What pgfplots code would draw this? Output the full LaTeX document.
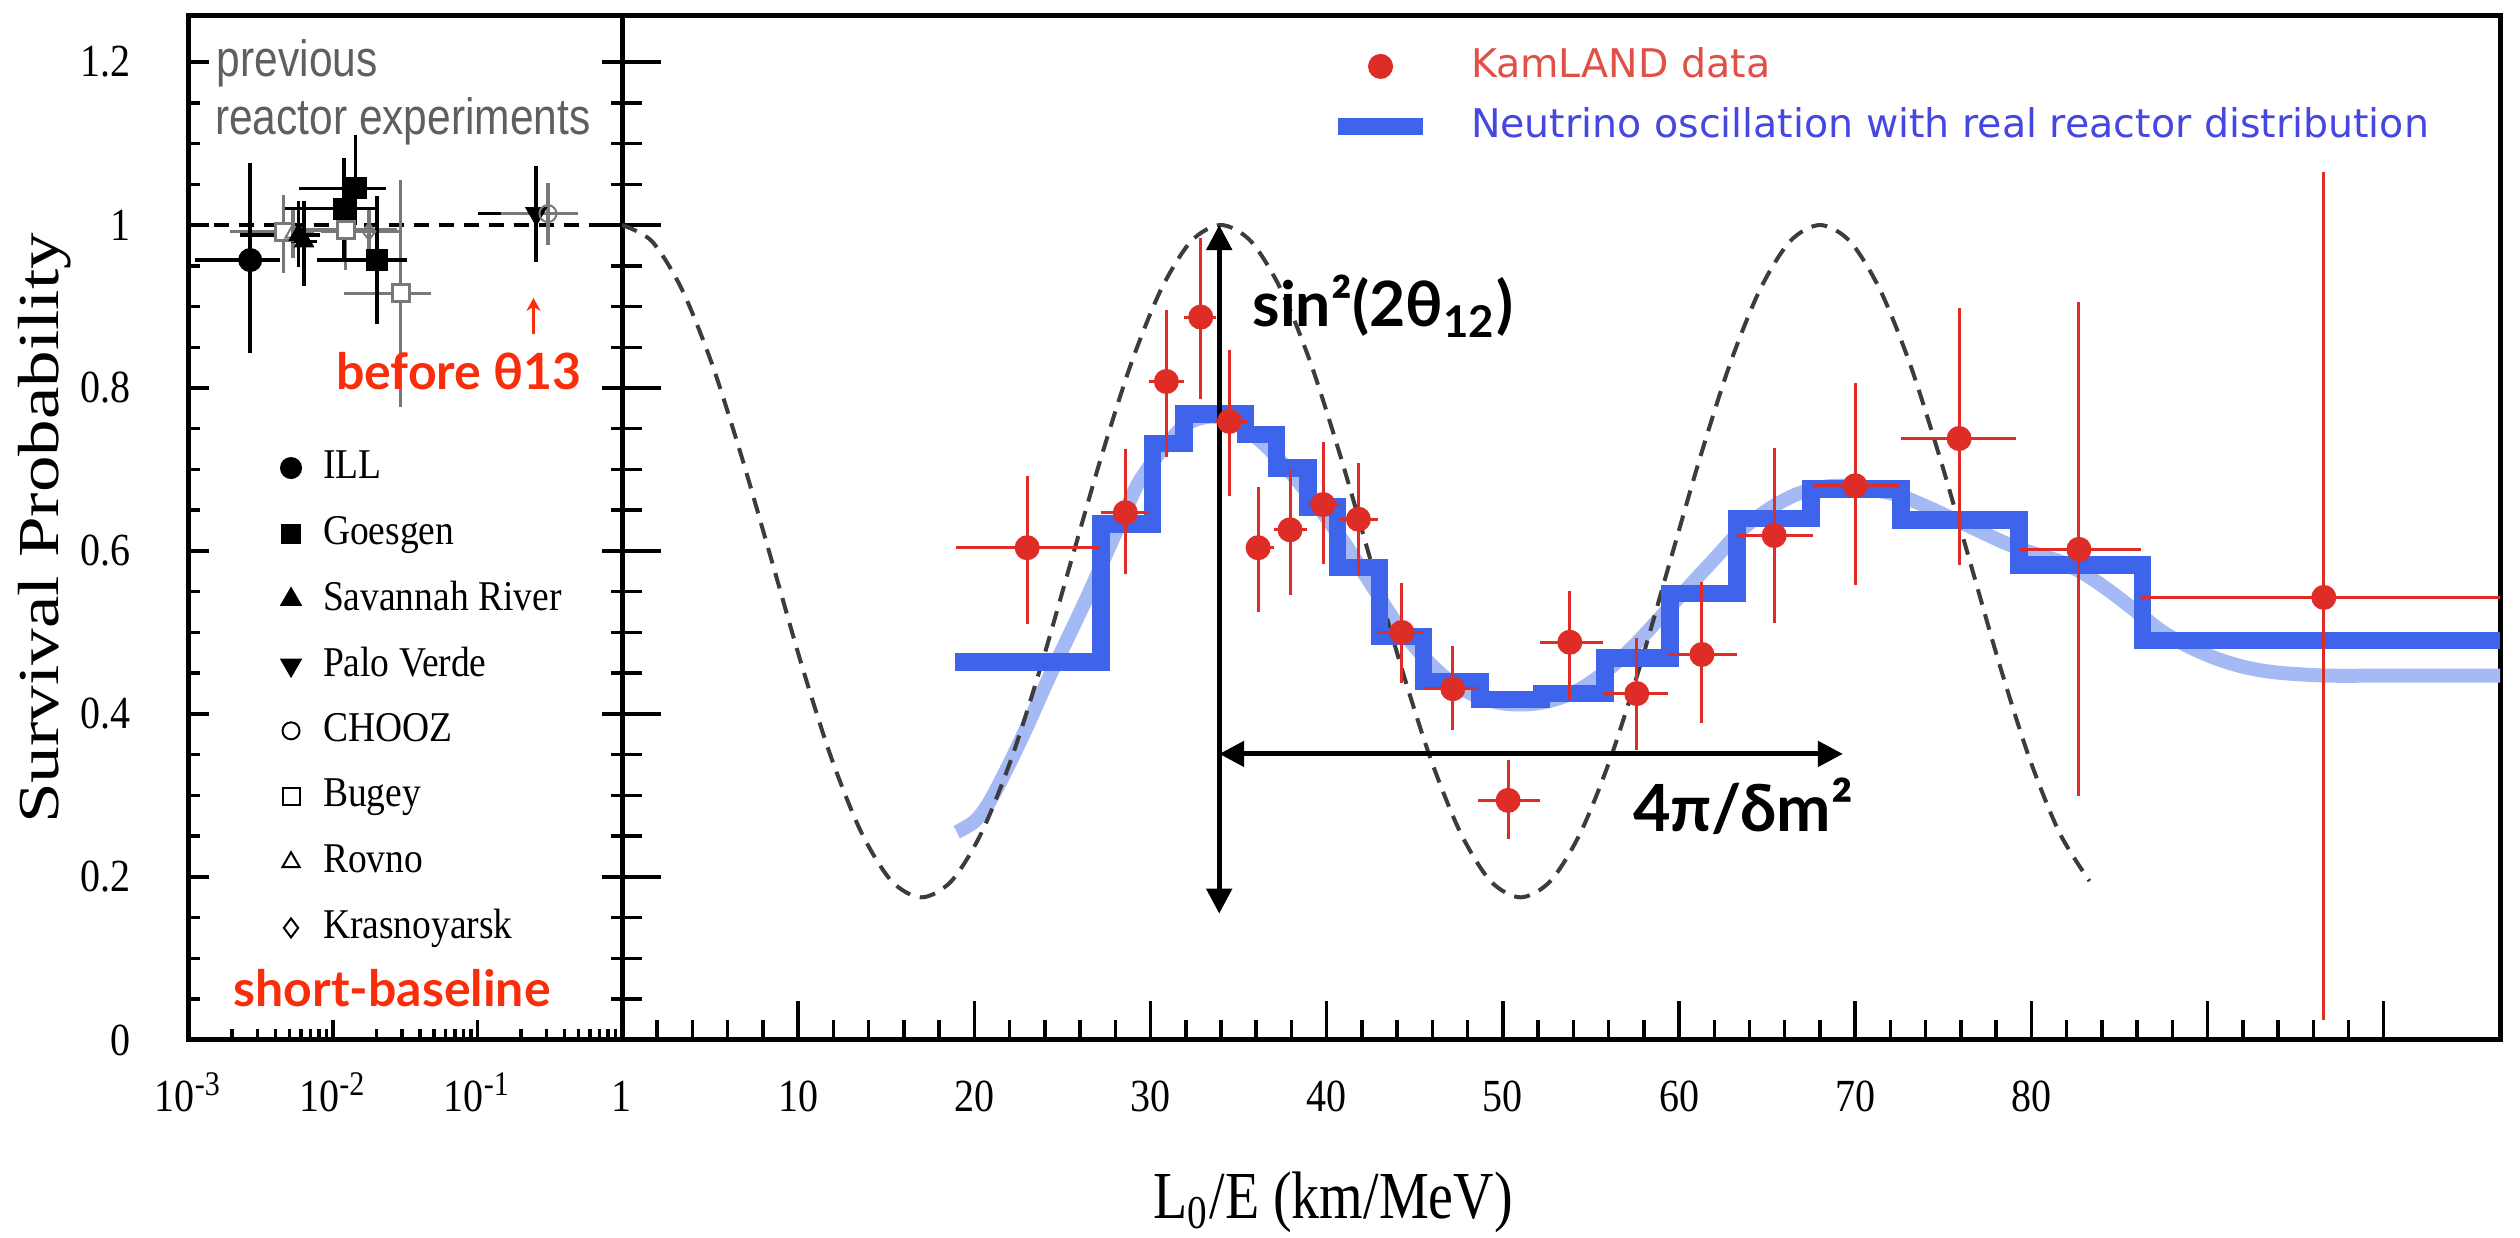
\documentclass[border=0pt]{standalone}
\usepackage{fontspec}
\setmainfont{Liberation Serif}
\newfontfamily\sansA{Liberation Sans}
\newfontfamily\djv{DejaVu Sans}
\newfontfamily\gill{Lato}
\usepackage{graphicx}
\usepackage{pgfplots}
\pgfplotsset{compat=1.18}
\usetikzlibrary{arrows.meta}
\definecolor{kamred}{RGB}{222,45,38}
\definecolor{stepblue}{RGB}{62,100,235}
\definecolor{lightblue}{RGB}{165,185,245}
\definecolor{annred}{RGB}{250,45,10}
\definecolor{leggrey}{RGB}{95,95,95}
\definecolor{legblue}{RGB}{70,70,225}
\definecolor{legred}{RGB}{225,80,70}
\definecolor{dashgrey}{RGB}{60,60,60}
\definecolor{bgrey}{RGB}{120,120,120}
\newcommand{\tl}[1]{\scalebox{1}[1.15]{#1}}
\newcommand{\lgt}[1]{\scalebox{1}[1.13]{#1}}
\begin{document}
\begin{tikzpicture}
\useasboundingbox (0,0) rectangle (504pt,247.6pt);
% ---------------- left (log) panel ----------------
\begin{axis}[
  at={(37.72pt,39.6pt)}, anchor=south west,
  scale only axis, width=86.68pt, height=204.8pt,
  xmode=log, xmin=0.001, xmax=1, ymin=0, ymax=1.2565,
  axis line style={line width=1pt},
  tick style={line width=0.7pt, black},
  major tick length=4pt, minor tick length=2.2pt,
  xtick={0.001,0.01,0.1},
  xticklabels={\tl{10\textsuperscript{-3}},\tl{10\textsuperscript{-2}},\tl{10\textsuperscript{-1}}},
  minor xtick={0.002,0.003,0.004,0.005,0.006,0.007,0.008,0.009,0.02,0.03,0.04,0.05,0.06,0.07,0.08,0.09,0.2,0.3,0.4,0.5,0.6,0.7,0.8,0.9},
  ytick={0,0.2,0.4,0.6,0.8,1,1.2},
  yticklabels={\tl{0},\tl{0.2},\tl{0.4},\tl{0.6},\tl{0.8},\tl{1},\tl{1.2}},
  minor y tick num=3,
  xtick pos=left, ytick pos=both, yticklabel pos=left,
  tick label style={font=\fontsize{8}{9}\selectfont},
  xticklabel style={anchor=base, yshift=-14.4pt},
  yticklabel style={anchor=east, xshift=-8.1pt},
  legend image code/.code={\draw[#1] plot coordinates {(0pt,0pt)};},
  legend style={at={(0.211,0.5916)}, anchor=north west, draw=none, fill=none,
    inner sep=0pt, column sep=4.4pt, row sep=0pt,
    font=\fontsize{7.5}{8}\selectfont, nodes={inner sep=0pt, minimum height=13.14pt}},
  legend cell align=left,
]
\addlegendimage{only marks, mark=*, mark size=2pt, black}
\addlegendimage{only marks, mark=square*, mark size=1.8pt, black}
\addlegendimage{only marks, mark=triangle*, mark size=2.2pt, black}
\addlegendimage{only marks, mark=triangle*, mark size=2.2pt, mark options={rotate=180}, black}
\addlegendimage{only marks, mark=o, mark size=1.7pt, black}
\addlegendimage{only marks, mark=square, mark size=1.7pt, black}
\addlegendimage{only marks, mark=triangle, mark size=2pt, black}
\addlegendimage{only marks, mark=diamond, mark size=1.9pt, black}
\legend{\lgt{ILL},\lgt{Goesgen},\lgt{Savannah River},\lgt{Palo Verde},\lgt{CHOOZ},\lgt{Bugey},\lgt{Rovno},\lgt{Krasnoyarsk}}
% dashed no-oscillation line
\addplot[forget plot, black, line width=0.9pt, dash pattern=on 3pt off 2pt] coordinates {(0.001,1) (1,1)};
% Bugey (grey, open squares)
\addplot[forget plot, only marks, mark=square*, mark size=1.7pt, bgrey, mark options={fill=white, line width=0.6pt},
  error bars/.cd, x dir=both, x explicit, y dir=both, y explicit, error mark=none,
  error bar style={line width=0.7pt, bgrey}] coordinates {
  (0.00455,0.992) += (0.0028,0.045) -= (0.00261,0.051)
  (0.0122,0.994) += (0.0157,0.024) -= (0.00765,0.049)
  (0.0294,0.916) += (0.018,0.139) -= (0.01754,0.139)
};
% Rovno
\addplot[forget plot, only marks, mark=triangle, mark size=1.8pt, bgrey,
  error bars/.cd, x dir=both, x explicit, y dir=both, y explicit, error mark=none,
  error bar style={line width=0.7pt, bgrey}] coordinates {
  (0.0053,0.990) += (0.0012,0.03) -= (0.001,0.03)
};
% Krasnoyarsk
\addplot[forget plot, only marks, mark=diamond, mark size=1.7pt, bgrey,
  error bars/.cd, x dir=both, x explicit, y dir=both, y explicit, error mark=none,
  error bar style={line width=0.7pt, bgrey}] coordinates {
  (0.0177,0.992) += (0.0117,0.03) -= (0.0095,0.03)
};
% ILL
\addplot[forget plot, only marks, mark=*, mark size=2.2pt, black,
  error bars/.cd, x dir=both, x explicit, y dir=both, y explicit, error mark=none,
  error bar style={line width=0.7pt, black}] coordinates {
  (0.00267,0.957) += (0.00165,0.119) -= (0.00157,0.114)
};
% Savannah River
\addplot[forget plot, only marks, mark=triangle*, mark size=2pt, black,
  error bars/.cd, x dir=both, x explicit, y dir=both, y explicit, error mark=none,
  error bar style={line width=0.7pt, black}] coordinates {
  (0.00578,0.988) += (0.00238,0.041) -= (0.0035,0.039)
  (0.0063,0.980) += (0.0015,0.05) -= (0.0012,0.055)
};
% Goesgen
\addplot[forget plot, only marks, mark=square*, mark size=2pt, black,
  error bars/.cd, x dir=both, x explicit, y dir=both, y explicit, error mark=none,
  error bar style={line width=0.7pt, black}] coordinates {
  (0.01432,1.045) += (0.00878,0.065) -= (0.00854,0.045)
  (0.01186,1.020) += (0.00784,0.062) -= (0.00718,0.061)
  (0.0202,0.957) += (0.0125,0.078) -= (0.01244,0.078)
};
% Palo Verde
\addplot[forget plot, only marks, mark=triangle*, mark size=2.2pt, mark options={rotate=180}, black,
  error bars/.cd, x dir=both, x explicit, y dir=both, y explicit, error mark=none,
  error bar style={line width=0.7pt, black}] coordinates {
  (0.2547,1.014) += (0.168,0.058) -= (0.1547,0.059)
};
% CHOOZ
\addplot[forget plot, only marks, mark=o, mark size=1.7pt, bgrey,
  error bars/.cd, x dir=both, x explicit, y dir=both, y explicit, error mark=none,
  error bar style={line width=0.7pt, bgrey}] coordinates {
  (0.307,1.014) += (0.188,0.037) -= (0.161,0.039)
};
\end{axis}
% ---------------- right (linear) panel ----------------
\begin{axis}[
  at={(124.4pt,39.6pt)}, anchor=south west,
  scale only axis, width=375.6pt, height=204.8pt,
  xmin=0, xmax=106.6, ymin=0, ymax=1.2565,
  axis line style={line width=1pt},
  tick style={line width=0.7pt, black},
  major tick length=7.8pt, minor tick length=3.9pt,
  xtick={0,10,20,30,40,50,60,70,80,90,100},
  xticklabels={\tl{1},\tl{10},\tl{20},\tl{30},\tl{40},\tl{50},\tl{60},\tl{70},\tl{80},{},{}},
  minor x tick num=4,
  ytick={0,0.2,0.4,0.6,0.8,1,1.2}, yticklabels={}, minor y tick num=3,
  xtick pos=left, ytick pos=left,
  tick label style={font=\fontsize{8}{9}\selectfont},
  xticklabel style={anchor=base, yshift=-14.4pt},
  legend style={at={(0.376,0.981)}, anchor=north west, draw=none, fill=none,
    inner sep=0pt, column sep=7.8pt, row sep=0pt,
    font=\djv\fontsize{7.9}{9}\selectfont, nodes={inner sep=0pt, minimum height=12pt}},
  legend cell align=left,
]
\addlegendimage{only marks, mark=*, mark size=2.3pt, kamred}
\addlegendimage{stepblue, line width=3.5pt}
\legend{\textcolor{legred}{KamLAND data},\textcolor{legblue}{Neutrino oscillation with real reactor distribution}}
% light smooth oscillation curve
\addplot[forget plot, lightblue, line width=2.8pt, smooth] coordinates {
 (19.0,0.255) (20.0,0.268) (20.8,0.29) (21.9,0.335) (23.0,0.385) (24.2,0.443)
 (25.3,0.493) (26.5,0.548) (27.6,0.602) (28.5,0.645) (29.3,0.683) (30.5,0.72)
 (32,0.755) (33.5,0.765) (35,0.755) (36.5,0.73) (38,0.695) (39.5,0.655) (41,0.61)
 (42.5,0.56) (44,0.51) (45.5,0.47) (47,0.44) (48.5,0.422) (50,0.413) (51.5,0.412)
 (53,0.418) (54.5,0.432) (56,0.455) (57.5,0.485) (59,0.52) (60.5,0.555) (62,0.59)
 (63.5,0.625) (65,0.65) (66.5,0.668) (68,0.678) (69.5,0.68) (71,0.675) (72.5,0.668)
 (74,0.655) (75.5,0.64) (77,0.625) (78.5,0.61) (80,0.598) (81.5,0.588) (83,0.572)
 (84.5,0.55) (86,0.525) (87.5,0.5) (89,0.482) (90.5,0.468) (92,0.458) (93.5,0.452)
 (95,0.449) (97,0.447) (100,0.447) (106.6,0.447)
};
% dashed pure oscillation curve
\addplot[forget plot, dashgrey, line width=0.8pt, dash pattern=on 3.2pt off 2pt, smooth] coordinates {
 (0,1.000) (1.7,0.980) (3.4,0.921) (5.1,0.830) (6.8,0.715) (8.5,0.588) (10.2,0.460)
 (11.9,0.345) (13.6,0.254) (15.3,0.195) (17.0,0.175) (18.7,0.195) (20.4,0.254)
 (22.1,0.345) (23.8,0.460) (25.5,0.588) (27.2,0.715) (28.9,0.830) (30.6,0.921)
 (32.3,0.980) (34.0,1.000) (35.7,0.980) (37.4,0.921) (39.1,0.830) (40.8,0.715)
 (42.5,0.588) (44.2,0.460) (45.9,0.345) (47.6,0.254) (49.3,0.195) (51.0,0.175)
 (52.7,0.195) (54.4,0.254) (56.1,0.345) (57.8,0.460) (59.5,0.588) (61.2,0.715)
 (62.9,0.830) (64.6,0.921) (66.3,0.980) (68.0,1.000) (69.7,0.980) (71.4,0.921)
 (73.1,0.830) (74.8,0.715) (76.5,0.588) (78.2,0.460) (79.9,0.345) (81.6,0.254)
 (83.3,0.195)
};
% step histogram with real reactor distribution
\addplot[forget plot, stepblue, line width=3.5pt, const plot] coordinates {
 (18.9,0.464) (27.2,0.633) (30.1,0.732) (31.9,0.768) (35.4,0.743) (37.15,0.702)
 (38.95,0.654) (40.6,0.580) (43.0,0.495) (45.5,0.440) (48.7,0.418) (52.2,0.425)
 (55.8,0.469) (59.5,0.548) (63.3,0.640) (67.5,0.676) (72.6,0.638) (79.3,0.583)
 (86.3,0.490) (106.6,0.490)
};
% KamLAND data
\addplot[forget plot, only marks, mark=*, mark size=2.3pt, kamred,
  error bars/.cd, x dir=both, x explicit, y dir=both, y explicit, error mark=none,
  error bar style={line width=0.6pt, kamred}] coordinates {
 (23.0,0.604) += (4.15,0.088) -= (4.05,0.093)
 (28.57,0.647) += (1.33,0.078) -= (1.37,0.075)
 (30.9,0.808) += (1.0,0.088) -= (1.0,0.093)
 (32.85,0.887) += (0.85,0.097) -= (0.95,0.101)
 (34.48,0.759) += (1.0,0.088) -= (0.78,0.091)
 (36.11,0.604) += (0.9,0.074) -= (0.7,0.079)
 (37.92,0.626) += (0.98,0.073) -= (0.92,0.080)
 (39.8,0.657) += (0.9,0.077) -= (0.9,0.073)
 (41.8,0.639) += (1.1,0.069) -= (1.1,0.069)
 (44.27,0.500) += (1.23,0.061) -= (1.37,0.062)
 (47.16,0.431) += (1.44,0.052) -= (1.66,0.051)
 (50.3,0.294) += (1.8,0.049) -= (1.7,0.047)
 (53.8,0.488) += (1.9,0.063) -= (1.7,0.071)
 (57.6,0.425) += (1.8,0.068) -= (1.9,0.069)
 (61.3,0.473) += (2.0,0.089) -= (1.9,0.084)
 (65.4,0.619) += (2.2,0.107) -= (2.1,0.107)
 (70.0,0.680) += (2.5,0.126) -= (2.4,0.122)
 (75.9,0.738) += (3.2,0.160) -= (3.3,0.155)
 (82.7,0.602) += (3.5,0.304) -= (3.4,0.303)
 (96.6,0.543) += (10.4,0.522) -= (10.4,0.518)
};
% annotation arrows
\draw[black, line width=1pt, {Triangle[length=5pt,width=5pt]}-{Triangle[length=5pt,width=5pt]}]
  (axis cs:33.9,0.155) -- (axis cs:33.9,1.0);
\draw[black, line width=1pt, {Triangle[length=5pt,width=5pt]}-{Triangle[length=5pt,width=5pt]}]
  (axis cs:33.9,0.351) -- (axis cs:69.3,0.351);
\end{axis}
% ---------------- texts ----------------
\node[rotate=90, anchor=base, inner sep=0pt, font=\fontsize{11.6}{12}\selectfont] at (11.7pt,141.9pt) {\scalebox{1.26}[1]{Survival Probability}};
\node[anchor=base, inner sep=0pt, font=\fontsize{11.2}{12}\selectfont] at (266.6pt,3.8pt) {\scalebox{1}[1.2]{L\textsubscript{0}/E (km/MeV)}};
\node[anchor=west, inner sep=0pt, text=leggrey, font=\sansA\fontsize{8.5}{9}\selectfont] at (43.2pt,235pt) {\scalebox{1}[1.2]{previous}};
\node[anchor=west, inner sep=0pt, text=leggrey, font=\sansA\fontsize{8.5}{9}\selectfont] at (42.8pt,223.4pt) {\scalebox{1}[1.2]{reactor experiments}};
\node[anchor=base west, inner sep=0pt, text=annred, font=\gill\bfseries\fontsize{10}{11}\selectfont] at (67pt,169.6pt) {before θ13};
\draw[annred, line width=0.55pt, -{Stealth[length=2.6pt,width=2.8pt]}] (106.7pt,180.8pt) -- (106.7pt,188pt);
\node[anchor=base west, inner sep=0pt, text=annred, font=\gill\bfseries\fontsize{10}{11}\selectfont] at (46.5pt,46.2pt) {short-baseline};
\node[anchor=base west, inner sep=0pt, font=\gill\bfseries\fontsize{12.5}{13}\selectfont] at (250.3pt,182.3pt) {sin²(2θ\textsubscript{12})};
\node[anchor=base west, inner sep=0pt, font=\gill\bfseries\fontsize{13}{14}\selectfont] at (326.4pt,81.2pt) {4π/δm²};
\end{tikzpicture}
\end{document}
